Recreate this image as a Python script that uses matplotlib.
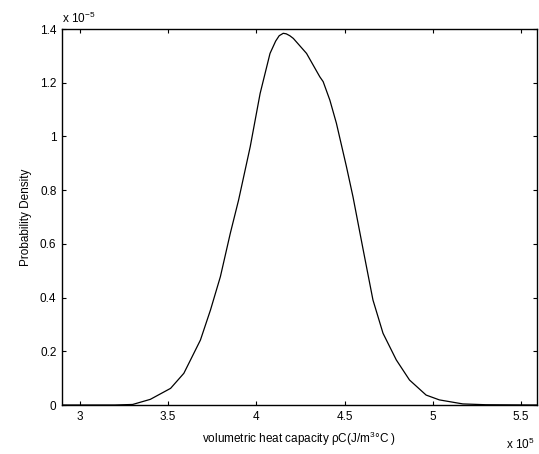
import matplotlib
matplotlib.use('Agg')
import matplotlib.pyplot as plt

plt.rcParams['font.family'] = ['Liberation Sans', 'DejaVu Sans']
plt.rcParams['mathtext.fontset'] = 'custom'
plt.rcParams['mathtext.rm'] = 'Liberation Sans'
plt.rcParams['mathtext.it'] = 'Liberation Sans'

# heat capacity (x 1e5) and probability density (x 1e-5)
rho_c = [2.90, 3.20, 3.30, 3.40, 3.515, 3.59, 3.628, 3.684, 3.741, 3.797,
         3.853, 3.90, 3.966, 4.022, 4.078, 4.11, 4.13, 4.153, 4.17, 4.19,
         4.21, 4.285, 4.36, 4.379, 4.417, 4.454, 4.511, 4.548, 4.567, 4.605,
         4.661, 4.718, 4.793, 4.868, 4.962, 5.037, 5.17, 5.30, 5.59]
density = [0.0, 0.0, 0.002, 0.021, 0.062, 0.118, 0.168, 0.242, 0.354, 0.478,
           0.639, 0.763, 0.962, 1.160, 1.309, 1.355, 1.375, 1.384, 1.382, 1.375,
           1.365, 1.309, 1.222, 1.204, 1.135, 1.049, 0.887, 0.775, 0.71, 0.58,
           0.391, 0.267, 0.168, 0.093, 0.037, 0.019, 0.004, 0.001, 0.0]

xticks = [3, 3.5, 4, 4.5, 5, 5.5]
xtick_labels = ['3', '3.5', '4', '4.5', '5', '5.5']
yticks = [0, 0.2, 0.4, 0.6, 0.8, 1.0, 1.2, 1.4]
ytick_labels = ['0', '0.2', '0.4', '0.6', '0.8', '1', '1.2', '1.4']

fig = plt.figure(figsize=(5.39, 4.54), dpi=100)
ax = fig.add_axes([62/539, 49/454, 475/539, 376/454])

ax.plot(rho_c, density, color='black', linewidth=0.9)

ax.set_xlim(2.9, 5.59)
ax.set_ylim(0, 1.4)
ax.set_xticks(xticks)
ax.set_xticklabels(xtick_labels)
ax.set_yticks(yticks)
ax.set_yticklabels(ytick_labels)
ax.tick_params(direction='in', length=3, width=0.8, top=True, right=True,
               labelsize=8.5, pad=4)
for sp in ax.spines.values():
    sp.set_linewidth(1.0)

ax.set_xlabel('volumetric heat capacity ρC(J/m$^{3}$°C )', fontsize=8.5, labelpad=5)
ax.set_ylabel('Probability Density', fontsize=8.5, labelpad=6)

fig.text(62/539, 1 - 23/454, 'x 10$^{-5}$', fontsize=8.5, ha='left', va='baseline')
fig.text(506/539, 1 - 449/454, 'x 10$^{5}$', fontsize=8.5, ha='left', va='baseline')

fig.savefig('out.png', dpi=100)
